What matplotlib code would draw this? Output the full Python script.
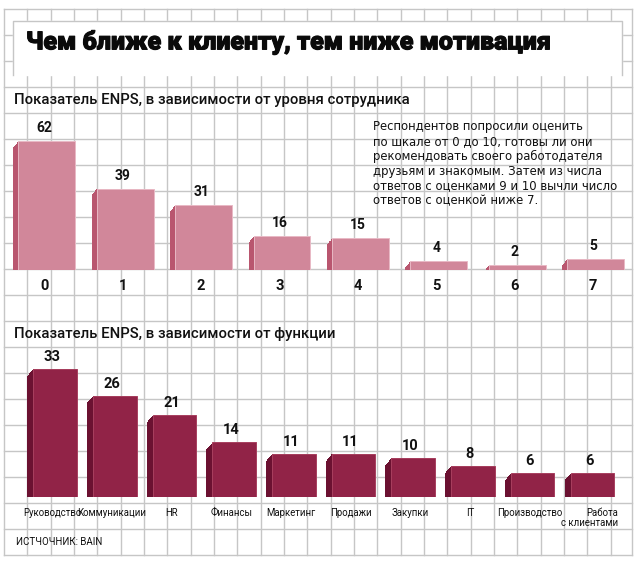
import numpy as np
import matplotlib
matplotlib.use("Agg")
import matplotlib.pyplot as plt
import matplotlib.patheffects as pe
from matplotlib.transforms import offset_copy

plt.rcParams['font.family'] = ['Roboto', 'DejaVu Sans']

W, H = 638, 564

TITLE = "Чем ближе к клиенту, тем ниже мотивация"
SUB_LEVEL = "Показатель ENPS, в зависимости от уровня сотрудника"
SUB_FUNC = "Показатель ENPS, в зависимости от функции"
NOTE = ("Респондентов попросили оценить\n"
        "по шкале от 0 до 10, готовы ли они\n"
        "рекомендовать своего работодателя\n"
        "друзьям и знакомым. Затем из числа\n"
        "ответов с оценками 9 и 10 вычли число\n"
        "ответов с оценкой ниже 7.")
SOURCE = "ИСТЧОЧНИК: BAIN"

# уровень сотрудника
levels = ['0', '1', '2', '3', '4', '5', '6', '7']
enps_level = [62, 39, 31, 16, 15, 4, 2, 5]

# функции
functions = ['Руководство', 'Коммуникации', 'HR', 'Финансы', 'Маркетинг',
             'Продажи', 'Закупки', 'IT', 'Производство', 'Работа\nс клиентами']
enps_func = [33, 26, 21, 14, 11, 11, 10, 8, 6, 6]

GRID = '#c6c6c6'
PINK, PINK_DARK, PINK_EDGE = '#d1879a', '#b9566f', '#e9b9c5'
WINE, WINE_DARK, WINE_EDGE = '#912347', '#6b1131', '#a8405f'


def px_axes(fig, left, top, right, bottom):
    # позиції en píxels (origen a dalt a l'esquerra)
    return fig.add_axes([left / W, (H - bottom) / H, (right - left) / W, (bottom - top) / H])


def bars_3d(ax, fig, cats, vals, width, face, dark, edge, depth, val_off, cat_off,
            val_size, cat_size, cat_weight):
    x = np.arange(len(cats))
    # extrusió: còpies desplaçades cap avall i a l'esquerra
    for t in np.linspace(1, 0.05, 14):
        tr = offset_copy(ax.transData, fig=fig, x=-depth[0] * t, y=-depth[1] * t, units='dots')
        ax.bar(x, vals, width, color=dark, transform=tr, zorder=2, linewidth=0)
    ax.bar(x, vals, width, color=face, edgecolor=edge, linewidth=0.7, zorder=3)
    for i, (c, v) in enumerate(zip(cats, vals)):
        ax.annotate(str(v), (i, v), xytext=(-depth[0] / 2, val_off), textcoords='offset pixels',
                    ha='center', va='center', fontsize=val_size, fontweight='bold',
                    color='#111111', zorder=5)
        ax.annotate(c, (i, 0), xytext=(-depth[0] / 2, cat_off), textcoords='offset pixels',
                    ha='center', va='top', multialignment='right', fontsize=cat_size,
                    fontweight=cat_weight, color='#111111', linespacing=1.0,
                    annotation_clip=False, zorder=5)
    ax.set_xlim(-0.5, len(cats) - 0.5)
    ax.set_facecolor('none')
    ax.axis('off')


fig = plt.figure(figsize=(W / 100, H / 100), dpi=100)

# fons: quadrícula i caixa del títol
bg = fig.add_axes([0, 0, 1, 1], zorder=0)
bg.set_xlim(0, W)
bg.set_ylim(H, 0)
bg.axis('off')
gx = 4 + 23.33 * np.arange(27)
gy = 8.7 + 26 * np.arange(22)
for xv in gx:
    bg.plot([xv, xv], [gy[0], gy[-1]], color=GRID, lw=1, zorder=1)
for yv in gy:
    bg.plot([gx[0], 631.7], [yv, yv], color=GRID, lw=1, zorder=1)
bg.plot([631.7, 631.7], [gy[0], gy[-1]], color=GRID, lw=1, zorder=1)
bg.fill([13.3, 621.7, 621.7, 13.3], [21.3, 21.3, 75, 75], color='white', zorder=2)
bg.plot([13.3, 13.3, 621.7, 621.7], [75, 21.3, 21.3, 75], color=GRID, lw=1, zorder=3)

bg.text(26, 42, TITLE, fontsize=18, fontweight='black', va='center', ha='left',
        color='#0a0a0a', zorder=4,
        path_effects=[pe.withStroke(linewidth=0.8, foreground='#0a0a0a')])
bg.text(14, 100, SUB_LEVEL, fontsize=10.7, fontweight='medium', va='center', ha='left',
        color='#111111', zorder=4)
bg.text(14, 334, SUB_FUNC, fontsize=10.7, fontweight='medium', va='center', ha='left',
        color='#111111', zorder=4)
bg.text(373, 120, NOTE, fontsize=8.4, va='top', ha='left', linespacing=1.19,
        color='#111111', zorder=4, family=['DejaVu Sans'])
bg.text(16, 542, SOURCE, fontsize=7.0, va='center', ha='left', color='#111111', zorder=4)

# gràfic superior
ax1 = px_axes(fig, 7.6, 135.0, 634.8, 269.5)
ax1.set_ylim(0, 65)
bars_3d(ax1, fig, levels, enps_level, 0.727, PINK, PINK_DARK, PINK_EDGE, (5, 6),
        13, -10, 10, 10.5, 'bold')

# gràfic inferior
ax2 = px_axes(fig, 25.2, 360.9, 622.2, 496.7)
ax2.set_ylim(0, 35)
bars_3d(ax2, fig, functions, enps_func, 0.73, WINE, WINE_DARK, WINE_EDGE, (6, 7),
        12, -11.5, 10.5, 6.9, 'normal')

fig.savefig('out.png', dpi=100, facecolor='white')
